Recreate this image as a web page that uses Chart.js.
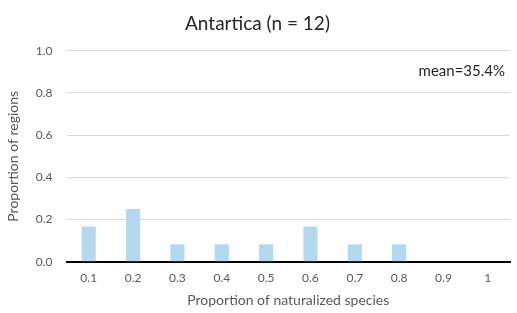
<!DOCTYPE html>
<html>
<head>
<meta charset="utf-8">
<script src="https://cdn.jsdelivr.net/npm/chart.js@4"></script>
<style>
  html, body { margin: 0; padding: 0; background: #fff; }
  #wrap { width: 517px; height: 313px; }
</style>
</head>
<body>
<div id="wrap"><canvas id="histChart" width="517" height="313"></canvas></div>
<script>
// bins of naturalized species proportion
const categories = ['0.1', '0.2', '0.3', '0.4', '0.5', '0.6', '0.7', '0.8', '0.9', '1'];
// proportion of regions per bin (n = 12)
const proportions = [0.167, 0.25, 0.083, 0.083, 0.083, 0.167, 0.083, 0.083, 0, 0];
const yTicks = [0, 0.2, 0.4, 0.6, 0.8, 1.0];
const meanLabel = 'mean=35.4%';

const fontFamily = 'Lato, "Open Sans", sans-serif';
const textColor = '#595959';

// draws the mean note in the upper right of the plot
const meanNote = {
    id: 'meanNote',
    afterDraw(chart) {
        const { ctx, chartArea } = chart;
        ctx.save();
        ctx.font = '15px ' + fontFamily;
        ctx.fillStyle = '#262626';
        ctx.textAlign = 'right';
        ctx.textBaseline = 'middle';
        ctx.fillText(meanLabel, chartArea.right - 5, chartArea.top + 20);
        ctx.restore();
    }
};

const ctx = document.getElementById('histChart');
new Chart(ctx, {
    type: 'bar',
    data: {
        labels: categories,
        datasets: [{
            label: 'Proportion of regions',
            data: proportions,
            backgroundColor: '#b4d9ee',
            borderWidth: 0,
            categoryPercentage: 1,
            barPercentage: 0.32
        }]
    },
    options: {
        responsive: false,
        animation: false,
        layout: { padding: { left: 5, right: 7, top: 0, bottom: 4 } },
        plugins: {
            legend: { display: false },
            tooltip: { enabled: false },
            title: {
                display: true,
                text: 'Antartica (n = 12)',
                color: '#262626',
                font: { family: fontFamily, size: 19, weight: 'normal' },
                padding: { top: 12, bottom: 16 }
            }
        },
        scales: {
            x: {
                grid: { display: false },
                border: { display: true, color: '#000', width: 2 },
                ticks: {
                    color: textColor,
                    font: { family: fontFamily, size: 12 },
                    padding: 1,
                    maxRotation: 0
                },
                title: {
                    display: true,
                    text: 'Proportion of naturalized species',
                    color: textColor,
                    font: { family: fontFamily, size: 14 },
                    padding: { top: 6, bottom: 0 }
                }
            },
            y: {
                min: 0,
                max: 1,
                afterBuildTicks: (axis) => { axis.ticks = yTicks.map(v => ({ value: v })); },
                grid: {
                    color: (c) => c.tick && c.tick.value === 0 ? 'rgba(0,0,0,0)' : '#d9d9d9',
                    lineWidth: 1,
                    drawTicks: false
                },
                border: { display: false },
                ticks: {
                    color: textColor,
                    font: { family: fontFamily, size: 12 },
                    padding: 14,
                    callback: (v) => Number(v).toFixed(1)
                },
                title: {
                    display: true,
                    text: 'Proportion of regions',
                    color: textColor,
                    font: { family: fontFamily, size: 14 },
                    padding: { top: 0, bottom: 0 }
                }
            }
        }
    },
    plugins: [meanNote]
});
</script>
</body>
</html>
